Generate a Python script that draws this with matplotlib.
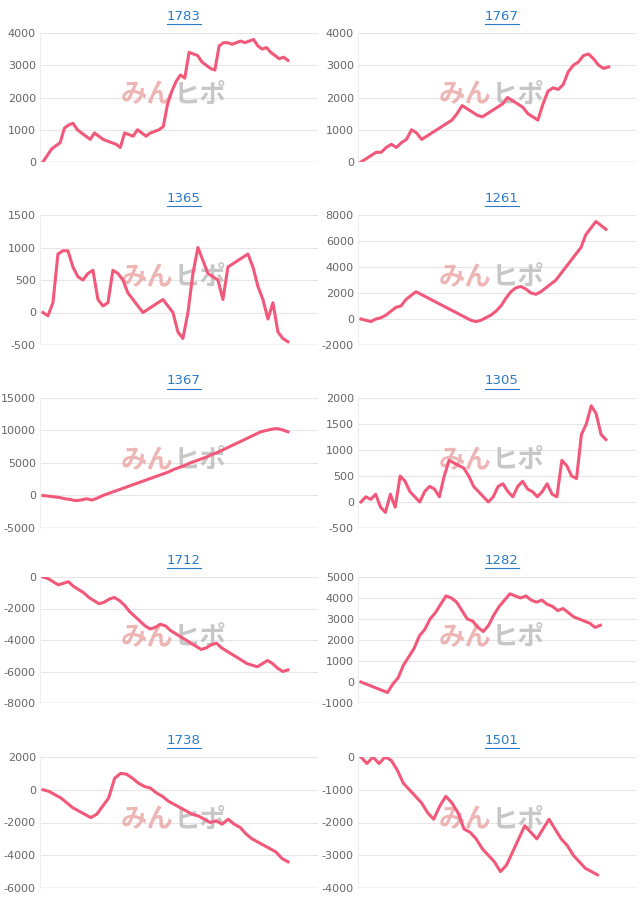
import matplotlib
matplotlib.use("Agg")
import matplotlib.pyplot as plt
from matplotlib.lines import Line2D

titles = ["1783", "1767", "1365", "1261", "1367", "1305", "1712", "1282", "1738", "1501"]
s1783 = [0,200,400,500,600,1050,1150,1200,1000,900,800,700,900,800,700,650,600,550,450,900,850,800,1000,900,800,900,950,1000,1100,1800,2200,2500,2700,2600,3400,3350,3300,3100,3000,2900,2850,3600,3700,3700,3650,3700,3750,3700,3750,3800,3600,3500,3550,3400,3300,3200,3250,3150]
s1767 = [0,100,200,300,300,450,550,450,600,700,1000,900,700,800,900,1000,1100,1200,1300,1500,1750,1650,1550,1450,1400,1500,1600,1700,1800,2000,1900,1800,1700,1500,1400,1300,1800,2200,2300,2250,2400,2800,3000,3100,3300,3350,3200,3000,2900,2950]
s1365 = [0,-50,150,900,950,950,700,550,500,600,650,200,100,150,650,600,500,300,200,100,0,50,100,150,200,100,0,-300,-400,0,600,1000,800,600,550,500,200,700,750,800,850,900,700,400,200,-100,150,-300,-400,-450]
s1261 = [0,-100,-200,0,100,300,600,900,1000,1500,1800,2100,1900,1700,1500,1300,1100,900,700,500,300,100,-100,-200,-100,100,300,600,1000,1600,2100,2400,2500,2300,2000,1900,2100,2400,2700,3000,3500,4000,4500,5000,5500,6500,7000,7500,7200,6900]
s1367 = [0,-100,-200,-300,-500,-600,-800,-700,-500,-700,-400,0,300,600,900,1200,1500,1800,2100,2400,2700,3000,3300,3600,4000,4300,4600,5000,5300,5600,5900,6300,6600,7000,7400,7800,8200,8600,9000,9400,9800,10000,10200,10300,10100,9800]
s1305 = [0,100,50,150,-100,-200,150,-100,500,400,200,100,0,200,300,250,100,500,800,750,700,650,500,300,200,100,0,100,300,350,200,100,300,400,250,200,100,200,350,150,100,800,700,500,450,1300,1500,1850,1700,1300,1200]
s1712 = [0,-100,-300,-500,-400,-300,-600,-800,-1000,-1300,-1500,-1700,-1600,-1400,-1300,-1500,-1800,-2200,-2500,-2800,-3100,-3300,-3200,-3000,-3100,-3400,-3600,-3800,-4000,-4200,-4400,-4600,-4500,-4300,-4200,-4500,-4700,-4900,-5100,-5300,-5500,-5600,-5700,-5500,-5300,-5500,-5800,-6000,-5900]
s1282 = [0,-100,-200,-300,-400,-500,-100,200,800,1200,1600,2200,2500,3000,3300,3700,4100,4000,3800,3400,3000,2900,2600,2400,2700,3200,3600,3900,4200,4100,4000,4100,3900,3800,3900,3700,3600,3400,3500,3300,3100,3000,2900,2800,2600,2700]
s1738 = [0,-100,-300,-500,-800,-1100,-1300,-1500,-1700,-1500,-1000,-500,700,1000,950,700,400,200,100,-200,-400,-700,-900,-1100,-1300,-1500,-1600,-1800,-2000,-1900,-2100,-1800,-2100,-2300,-2700,-3000,-3200,-3400,-3600,-3800,-4200,-4400]
s1501 = [0,-200,0,-200,0,-100,-400,-800,-1000,-1200,-1400,-1700,-1900,-1500,-1200,-1400,-1700,-2200,-2300,-2500,-2800,-3000,-3200,-3500,-3300,-2900,-2500,-2100,-2300,-2500,-2200,-1900,-2200,-2500,-2700,-3000,-3200,-3400,-3500,-3600]
series = [s1783, s1767, s1365, s1261, s1367, s1305, s1712, s1282, s1738, s1501]
yticks = [
    [0,1000,2000,3000,4000], [0,1000,2000,3000,4000],
    [-500,0,500,1000,1500], [-2000,0,2000,4000,6000,8000],
    [-5000,0,5000,10000,15000], [-500,0,500,1000,1500,2000],
    [-8000,-6000,-4000,-2000,0], [-1000,0,1000,2000,3000,4000,5000],
    [-6000,-4000,-2000,0,2000], [-4000,-3000,-2000,-1000,0],
]
xend = [0.88, 0.89, 0.88, 0.88, 0.88, 0.88, 0.88, 0.86, 0.88, 0.85]

W, H = 640, 908
fig = plt.figure(figsize=(6.4, 9.08), dpi=100)
rows = [(33,162),(215,345),(398,528),(577,703),(757,888)]
cols = [40, 358]
for i, (t, s, yt) in enumerate(zip(titles, series, yticks)):
    r, c = divmod(i, 2)
    top, bot = rows[r]
    ax = fig.add_axes([cols[c]/W, 1-bot/H, 278/W, (bot-top)/H])
    n = len(s)
    x = list(range(n))
    ax.plot(x, s, color="#f2587a", lw=2.2, solid_joinstyle="round", zorder=3)
    ax.set_xlim(-0.012*(n-1), (n-1)/xend[i]*(1-0.012))
    ax.set_ylim(yt[0], yt[-1])
    ax.set_yticks(yt)
    ax.set_yticklabels([str(v) for v in yt])
    ax.set_xticks([])
    ax.grid(axis="y", color="#e6e6e6", lw=0.8)
    ax.set_axisbelow(True)
    for sp in ["top", "right", "bottom"]:
        ax.spines[sp].set_visible(False)
    ax.spines["left"].set_color("#eeeeee")
    ax.axhline(yt[0], color="#cccccc", lw=1, zorder=0)
    ax.tick_params(axis="y", length=0, labelsize=8, labelcolor="#666666", pad=3)
    ax.text(0.48, 0.52, "みん", transform=ax.transAxes, fontsize=19, fontweight="bold",
            color="#eba8a8", alpha=0.85, family=["Noto Sans CJK JP"], ha="right", va="center", zorder=1)
    ax.text(0.48, 0.52, "ヒポ", transform=ax.transAxes, fontsize=19, fontweight="bold",
            color="#bdbdbd", alpha=0.85, family=["Noto Sans CJK JP"], ha="left", va="center", zorder=1)
    cx = (cols[c] + 139 + 5) / W
    fig.text(cx, 1-(top-17)/H, t, ha="center", va="center", fontsize=9.5,
             color="#2a7bc8", family="DejaVu Sans")
    fig.add_artist(Line2D([cx-17/W, cx+17/W], [1-(top-9)/H]*2, color="#2a7bc8", lw=0.8))

fig.savefig("out.png", dpi=100, facecolor="white")
